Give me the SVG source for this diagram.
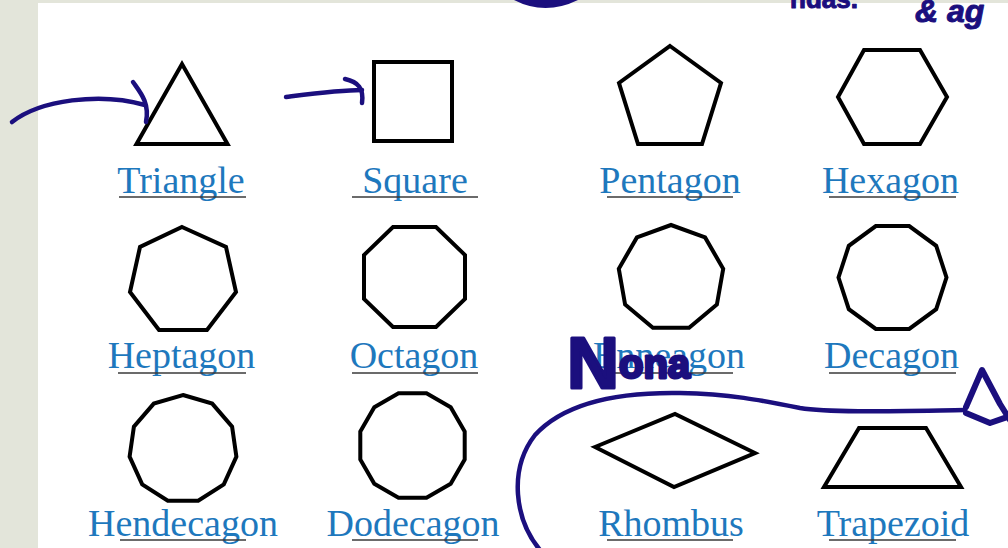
<svg xmlns="http://www.w3.org/2000/svg" width="1008" height="548" viewBox="0 0 1008 548">
<style>
.shape{fill:#fff;stroke:#000;stroke-width:4;stroke-linejoin:miter}
.lbl{font-family:"Liberation Serif","Times New Roman",serif;font-size:38px;fill:#1e78bd;text-anchor:middle}
.ul{stroke:#3a3a3a;stroke-width:1.4}
.ink{fill:none;stroke:#1b0f7e;stroke-width:4.5;stroke-linecap:round;stroke-linejoin:round}
.inktxt{font-family:"Liberation Sans",Arial,sans-serif;font-weight:bold;fill:#1b0f7e;stroke:#1b0f7e;stroke-linejoin:round}
</style>
<rect x="0" y="0" width="1008" height="548" fill="#e3e5da"/>
<rect x="38" y="3" width="970" height="545" fill="#ffffff"/>

<g id="triangle">
<polygon class="shape" points="136.5,144 182,64 227.5,144"/>
<text class="lbl" x="181" y="193">Triangle</text>
<line class="ul" x1="119" y1="197" x2="246" y2="197"/>
</g>
<g id="square">
<rect class="shape" x="374" y="62" width="78" height="79"/>
<text class="lbl" x="415" y="193">Square</text>
<line class="ul" x1="352" y1="197" x2="478" y2="197"/>
</g>
<g id="pentagon">
<polygon class="shape" points="670,46 721,83 702,144 638,144 619,83"/>
<text class="lbl" x="670" y="193">Pentagon</text>
<line class="ul" x1="607" y1="197" x2="733" y2="197"/>
</g>
<g id="hexagon">
<polygon class="shape" points="864,50 920,50 947,97 920,144 864,144 838,97"/>
<text class="lbl" x="890.5" y="193">Hexagon</text>
<line class="ul" x1="829" y1="197" x2="956" y2="197"/>
</g>

<g id="heptagon">
<polygon class="shape" points="182,227 226,247 236,292 207,330 159,330 130,292 140,247"/>
<text class="lbl" x="181.5" y="368">Heptagon</text>
<line class="ul" x1="118" y1="373" x2="246" y2="373"/>
</g>
<g id="octagon">
<polygon class="shape" points="393,227 436,227 465,255 465,299 436,327 393,327 364,299 364,255"/>
<text class="lbl" x="414" y="368">Octagon</text>
<line class="ul" x1="352" y1="373" x2="478" y2="373"/>
</g>
<g id="enneagon">
<polygon class="shape" points="671,225 705.1,237.4 723.2,268.8 716.9,304.5 689.1,327.8 652.9,327.8 625.1,304.5 618.8,268.8 636.9,237.4"/>
<text class="lbl" x="669" y="368">Enneagon</text>
<line class="ul" x1="608" y1="373" x2="733" y2="373"/>
</g>
<g id="decagon">
<polygon class="shape" points="946.5,277.5 936.2,309.2 909.2,328.9 875.8,328.9 848.8,309.2 838.5,277.5 848.8,245.8 875.8,226.1 909.2,226.1 936.2,245.8"/>
<text class="lbl" x="891.5" y="368">Decagon</text>
<line class="ul" x1="829" y1="373" x2="956" y2="373"/>
</g>

<g id="hendecagon">
<polygon class="shape" points="183,395 212.2,403.6 232.1,426.6 236.4,456.7 223.8,484.4 198.2,500.8 167.8,500.8 142.2,484.4 129.6,456.7 133.9,426.6 153.8,403.6"/>
<text class="lbl" x="183" y="536">Hendecagon</text>
<line class="ul" x1="120" y1="540" x2="246" y2="540"/>
</g>
<g id="dodecagon">
<polygon class="shape" points="464.7,459.5 450.7,483.7 426.5,497.7 398.5,497.7 374.3,483.7 360.3,459.5 360.3,431.5 374.3,407.3 398.5,393.3 426.5,393.3 450.7,407.3 464.7,431.5"/>
<text class="lbl" x="413" y="536">Dodecagon</text>
<line class="ul" x1="352" y1="540" x2="478" y2="540"/>
</g>
<g id="rhombus">
<polygon class="shape" points="595,447 675,414 755,453 674,487"/>
<text class="lbl" x="671" y="536">Rhombus</text>
<line class="ul" x1="607" y1="540" x2="733" y2="540"/>
</g>
<g id="trapezoid">
<polygon class="shape" points="859,428 926,428 961,487 824,487"/>
<text class="lbl" x="893" y="536">Trapezoid</text>
<line class="ul" x1="829" y1="540" x2="956" y2="540"/>
</g>

<g id="connectors">
<path class="ink" d="M12,122 C40,100 100,92 145,105"/>
<path class="ink" d="M133,82 C140,92 150,103 146,122"/>
<path class="ink" d="M286,97 C310,94 340,90 362,90"/>
<path class="ink" d="M345,79 C358,82 364,88 362,103"/>
<path class="ink" d="M540,550 C515,520 508,470 535,435 C565,402 620,392 680,393 C730,394 760,400 800,408 C830,413 900,411 965,410"/>
<path class="ink" style="stroke-width:6" d="M966,407 L982,370 L1000,404 L1010,420"/>
<path class="ink" style="stroke-width:6" d="M966,413 L990,423 L1010,416"/>
</g>

<g id="annotations">
<path d="M514,0 Q545,16 578,0 Z" fill="#1b0f7e"/>
<text class="inktxt" x="790" y="8" font-size="26" stroke-width="1">ndas.</text>
<text class="inktxt" x="915" y="22" font-size="32" font-style="italic" stroke-width="1">&amp; ag</text>
<text class="inktxt" x="567" y="388" stroke-width="3"><tspan font-size="72">N</tspan><tspan font-size="40" dy="-10">ona</tspan></text>
</g>
</svg>
